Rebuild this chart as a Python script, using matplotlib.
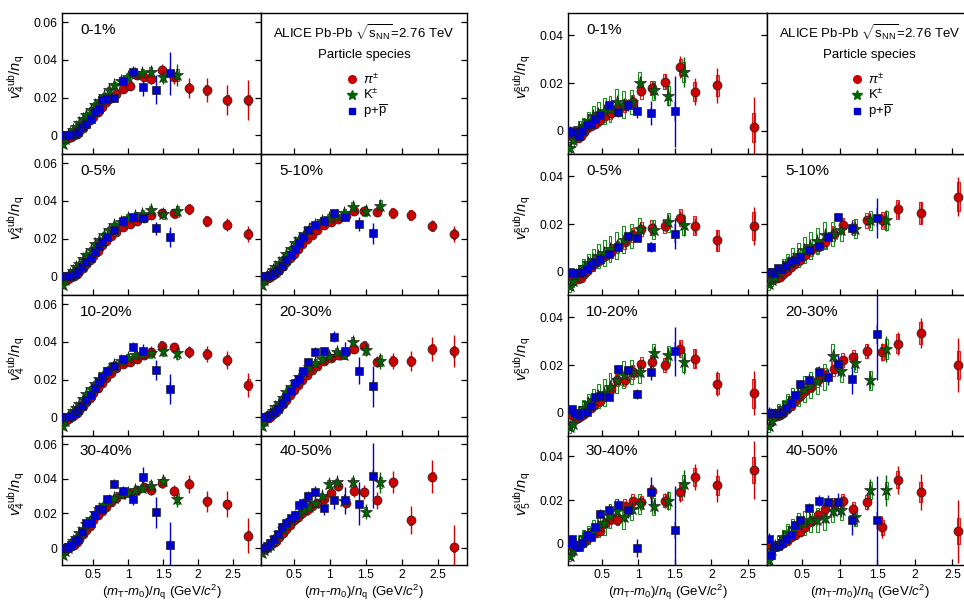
import numpy as np
import matplotlib
matplotlib.use("Agg")
import matplotlib.pyplot as plt
from matplotlib.patches import Rectangle
from matplotlib.ticker import FuncFormatter, FixedLocator

plt.rcParams["font.family"] = ["Liberation Sans", "DejaVu Sans"]
plt.rcParams["mathtext.fontset"] = "custom"
plt.rcParams["mathtext.rm"] = "Liberation Sans"
plt.rcParams["mathtext.it"] = "Liberation Sans:italic"
plt.rcParams["mathtext.bf"] = "Liberation Sans:bold"

# ---------------------------------------------------------------- data
CENTS = ["0-1%", "0-5%", "5-10%", "10-20%", "20-30%", "30-40%", "40-50%"]

# v4 -- pions
v4_pi_x = [0.07, 0.10, 0.14, 0.18, 0.22, 0.26, 0.30, 0.35, 0.40, 0.45, 0.50, 0.56, 0.62, 0.68,
           0.75, 0.83, 0.92, 1.02, 1.12, 1.22, 1.33, 1.48, 1.66, 1.87, 2.12, 2.42, 2.72]
v4_pi_y = [
    [-0.0005, -0.001, -0.0015, -0.001, 0.0, 0.001, 0.0025, 0.004, 0.006, 0.008, 0.010, 0.0125, 0.015, 0.0175,
     0.020, 0.022, 0.0245, 0.026, 0.0318, 0.031, 0.030, 0.0345, 0.031, 0.025, 0.024, 0.0187, 0.0187],
    [-0.0005, -0.001, -0.0012, -0.0005, 0.0005, 0.0015, 0.003, 0.0047, 0.0067, 0.0088, 0.0108, 0.0135, 0.0165, 0.019,
     0.0212, 0.0235, 0.026, 0.0278, 0.0292, 0.031, 0.0327, 0.0335, 0.0335, 0.0355, 0.0295, 0.0275, 0.0225],
    [-0.0005, -0.001, -0.001, -0.0003, 0.001, 0.002, 0.0035, 0.0055, 0.0075, 0.0097, 0.012, 0.0145, 0.0172, 0.0197,
     0.022, 0.0245, 0.027, 0.029, 0.0305, 0.032, 0.0345, 0.0345, 0.0343, 0.0338, 0.0327, 0.0268, 0.0225],
    [-0.0005, -0.001, -0.0008, 0.0, 0.0012, 0.0025, 0.004, 0.006, 0.0082, 0.0105, 0.013, 0.0158, 0.0185, 0.021,
     0.0235, 0.026, 0.0285, 0.0295, 0.031, 0.033, 0.0345, 0.038, 0.0372, 0.0345, 0.0336, 0.0304, 0.0173],
    [-0.0005, -0.0008, -0.0005, 0.0005, 0.0018, 0.003, 0.0048, 0.007, 0.0095, 0.012, 0.0145, 0.0172, 0.020, 0.0225,
     0.025, 0.0275, 0.030, 0.0315, 0.033, 0.0345, 0.036, 0.038, 0.0296, 0.030, 0.0297, 0.0363, 0.035],
    [-0.0005, -0.0005, 0.0, 0.001, 0.002, 0.0035, 0.0055, 0.008, 0.0105, 0.013, 0.016, 0.019, 0.0215, 0.024,
     0.0265, 0.029, 0.031, 0.032, 0.0337, 0.0352, 0.0333, 0.0375, 0.033, 0.0371, 0.027, 0.0253, 0.0072],
    [-0.0005, -0.0005, 0.0005, 0.0015, 0.0028, 0.0042, 0.0062, 0.0085, 0.011, 0.0135, 0.016, 0.018, 0.020, 0.022,
     0.0245, 0.026, 0.0285, 0.032, 0.0356, 0.026, 0.033, 0.0324, 0.0276, 0.0381, 0.0162, 0.0413, 0.0004],
]
v4_pi_stat = [0.0003, 0.0003, 0.0003, 0.0003, 0.0003, 0.0003, 0.0003, 0.0003, 0.0003, 0.0003, 0.0003, 0.0004,
              0.0004, 0.0004, 0.0005, 0.0005, 0.0006, 0.0007, 0.0008, 0.0009, 0.0010, 0.0012, 0.0015, 0.0020,
              0.0025, 0.0030, 0.0040]
v4_pi_sys = [0.0006, 0.0006, 0.0006, 0.0006, 0.0006, 0.0007, 0.0007, 0.0008, 0.0008, 0.0009, 0.0010, 0.0011,
             0.0012, 0.0013, 0.0014, 0.0015, 0.0016, 0.0017, 0.0018, 0.0019, 0.0020, 0.0022, 0.0024, 0.0026,
             0.0026, 0.0026, 0.0028]
v4_pi_scale = [2.6, 1.1, 1.0, 1.6, 2.1, 2.5, 3.2]

# v4 -- kaons
v4_k_x = [0.06, 0.09, 0.13, 0.17, 0.21, 0.25, 0.30, 0.35, 0.40, 0.46, 0.52, 0.58, 0.65, 0.72, 0.80, 0.89,
          0.99, 1.10, 1.20, 1.32, 1.50, 1.70]
v4_k_y = [
    [-0.0045, -0.002, 0.0, 0.0015, 0.003, 0.0045, 0.0065, 0.0085, 0.011, 0.0135, 0.016, 0.0185, 0.021, 0.024,
     0.0265, 0.029, 0.031, 0.0325, 0.033, 0.0335, 0.031, 0.032],
    [-0.0045, -0.002, 0.0, 0.0015, 0.003, 0.0048, 0.0068, 0.009, 0.0115, 0.0142, 0.017, 0.0195, 0.022, 0.0245,
     0.027, 0.029, 0.031, 0.032, 0.033, 0.035, 0.033, 0.0345],
    [-0.0045, -0.002, 0.0, 0.0015, 0.0032, 0.005, 0.007, 0.0095, 0.012, 0.0148, 0.0175, 0.020, 0.0225, 0.025,
     0.0275, 0.0295, 0.031, 0.032, 0.0335, 0.037, 0.0345, 0.0375],
    [-0.0045, -0.002, 0.0, 0.0015, 0.0032, 0.005, 0.0072, 0.0098, 0.0125, 0.015, 0.0178, 0.0205, 0.023, 0.0255,
     0.028, 0.030, 0.0315, 0.033, 0.0335, 0.034, 0.035, 0.034],
    [-0.0045, -0.002, 0.0, 0.0018, 0.0035, 0.0055, 0.0078, 0.0105, 0.0135, 0.016, 0.019, 0.0215, 0.024, 0.0265,
     0.029, 0.031, 0.0325, 0.0345, 0.033, 0.040, 0.0355, 0.030],
    [-0.004, -0.0015, 0.0, 0.002, 0.0038, 0.006, 0.0085, 0.011, 0.014, 0.017, 0.020, 0.0225, 0.025, 0.027,
     0.029, 0.031, 0.032, 0.0335, 0.035, 0.036, 0.0385, 0.0286],
    [-0.003, -0.001, 0.0005, 0.002, 0.004, 0.006, 0.0085, 0.011, 0.0135, 0.016, 0.018, 0.020, 0.022, 0.024,
     0.026, 0.030, 0.037, 0.038, 0.027, 0.038, 0.021, 0.038],
]
v4_k_stat = [0.0006, 0.0005, 0.0004, 0.0004, 0.0004, 0.0004, 0.0004, 0.0004, 0.0004, 0.0005, 0.0005, 0.0005,
             0.0006, 0.0006, 0.0007, 0.0008, 0.0009, 0.0010, 0.0012, 0.0015, 0.0020, 0.0028]
v4_k_sys = [0.0015, 0.0012, 0.0010, 0.0010, 0.0010, 0.0010, 0.0011, 0.0012, 0.0013, 0.0014, 0.0015, 0.0016,
            0.0017, 0.0018, 0.0019, 0.0020, 0.0021, 0.0022, 0.0023, 0.0025, 0.0027, 0.0030]
v4_k_scale = [2.0, 1.0, 1.0, 1.2, 1.5, 1.8, 2.2]

# v4 -- protons
v4_p_x = [0.06, 0.09, 0.13, 0.18, 0.23, 0.28, 0.34, 0.40, 0.46, 0.52, 0.58, 0.63, 0.70, 0.80, 0.92, 1.06,
          1.21, 1.40, 1.60]
v4_p_y = [
    [0.0, 0.0, 0.0, 0.0, 0.0008, 0.0018, 0.0044, 0.006, 0.0085, 0.0124, 0.0141, 0.019, 0.0195, 0.020, 0.0287,
     0.0336, 0.0256, 0.0242, 0.033],
    [0.0, 0.0, 0.0, 0.0005, 0.0015, 0.003, 0.005, 0.0075, 0.010, 0.013, 0.016, 0.0185, 0.0207, 0.0245, 0.0295,
     0.0316, 0.031, 0.0254, 0.021],
    [0.0, 0.0, 0.0, 0.0008, 0.002, 0.0035, 0.0058, 0.0085, 0.0115, 0.0145, 0.0175, 0.021, 0.0245, 0.0274, 0.0295,
     0.0338, 0.0316, 0.0277, 0.0228],
    [0.0, 0.0, 0.0, 0.001, 0.0025, 0.004, 0.006, 0.009, 0.012, 0.0155, 0.019, 0.0212, 0.0244, 0.027, 0.031,
     0.0375, 0.0354, 0.025, 0.015],
    [0.0, 0.0, 0.0005, 0.0015, 0.003, 0.0045, 0.0075, 0.011, 0.014, 0.0185, 0.0204, 0.0248, 0.0296, 0.0349, 0.035,
     0.0428, 0.0352, 0.0248, 0.0166],
    [0.0, 0.0, 0.0005, 0.002, 0.004, 0.0055, 0.0095, 0.0143, 0.0143, 0.019, 0.0225, 0.0228, 0.0282, 0.0371, 0.033,
     0.0286, 0.0413, 0.0206, 0.0019],
    [0.0, 0.0, 0.001, 0.003, 0.0055, 0.008, 0.0124, 0.0145, 0.0175, 0.019, 0.0248, 0.026, 0.0299, 0.0324, 0.0234,
     0.0276, 0.0276, 0.0257, 0.0419],
]
v4_p_stat = [0.0005, 0.0005, 0.0005, 0.0005, 0.0005, 0.0005, 0.0005, 0.0006, 0.0006, 0.0007, 0.0008, 0.0009,
             0.0010, 0.0012, 0.0014, 0.0017, 0.0025, 0.0040, 0.0060]
v4_p_sys = [0.0006, 0.0006, 0.0006, 0.0006, 0.0006, 0.0007, 0.0007, 0.0008, 0.0008, 0.0009, 0.0010, 0.0010,
            0.0011, 0.0012, 0.0013, 0.0015, 0.0018, 0.0022, 0.0030]
v4_p_scale = [1.9, 0.9, 0.95, 1.33, 1.8, 2.2, 3.1]

# v5 -- pions
v5_pi_x = [0.06, 0.09, 0.13, 0.17, 0.21, 0.25, 0.30, 0.35, 0.41, 0.47, 0.54, 0.62, 0.71, 0.81, 0.92, 1.04,
           1.18, 1.36, 1.57, 1.77, 2.08, 2.58]
v5_pi_y = [
    [-0.001, -0.002, -0.003, -0.003, -0.002, -0.0005, 0.001, 0.002, 0.003, 0.0045, 0.006, 0.0075, 0.009, 0.0105,
     0.012, 0.0165, 0.018, 0.0206, 0.0267, 0.0164, 0.019, 0.0014],
    [-0.0005, -0.0015, -0.0025, -0.003, -0.0025, -0.001, 0.0005, 0.002, 0.0035, 0.005, 0.0068, 0.0085, 0.0105,
     0.0125, 0.0153, 0.018, 0.0185, 0.0192, 0.0226, 0.0192, 0.0132, 0.0192],
    [-0.0005, -0.001, -0.002, -0.0025, -0.002, -0.001, 0.0005, 0.002, 0.0035, 0.005, 0.007, 0.009, 0.0105, 0.0125,
     0.016, 0.0194, 0.0185, 0.0215, 0.0215, 0.0261, 0.0246, 0.0315],
    [-0.0005, -0.001, -0.0015, -0.002, -0.0015, -0.0005, 0.001, 0.002, 0.0035, 0.005, 0.007, 0.010, 0.0139, 0.0139,
     0.017, 0.0203, 0.0212, 0.020, 0.0268, 0.0226, 0.0122, 0.0081],
    [-0.0005, -0.001, -0.0015, -0.0015, -0.001, 0.0, 0.0015, 0.003, 0.005, 0.007, 0.009, 0.011, 0.0136, 0.016,
     0.0185, 0.022, 0.0233, 0.0258, 0.0254, 0.0289, 0.0333, 0.020],
    [0.0, -0.001, -0.0015, -0.001, 0.0, 0.001, 0.002, 0.0035, 0.005, 0.006, 0.0095, 0.0115, 0.011, 0.0175,
     0.0198, 0.019, 0.024, 0.0198, 0.0237, 0.0305, 0.0267, 0.0336],
    [0.0, -0.001, -0.0015, -0.001, -0.0005, 0.0005, 0.0015, 0.003, 0.004, 0.0055, 0.0076, 0.0105, 0.013, 0.016,
     0.018, 0.0198, 0.016, 0.0191, 0.0076, 0.0293, 0.0237, 0.0058],
]
v5_pi_stat = [0.0005, 0.0005, 0.0005, 0.0005, 0.0005, 0.0005, 0.0005, 0.0005, 0.0006, 0.0006, 0.0007, 0.0008,
              0.0009, 0.0010, 0.0011, 0.0013, 0.0015, 0.0020, 0.0028, 0.0035, 0.0045, 0.0080]
v5_pi_sys = [0.0008, 0.0008, 0.0008, 0.0009, 0.0010, 0.0012, 0.0014, 0.0016, 0.0018, 0.0020, 0.0022, 0.0024,
             0.0026, 0.0028, 0.0030, 0.0030, 0.0030, 0.0030, 0.0035, 0.0040, 0.0045, 0.0060]
v5_pi_scale = [1.6, 1.0, 1.0, 1.15, 1.4, 1.65, 1.8]

# v5 -- kaons
v5_k_x = [0.06, 0.10, 0.14, 0.19, 0.25, 0.31, 0.38, 0.45, 0.53, 0.61, 0.70, 0.80, 0.91, 1.02, 1.21, 1.41, 1.62]
v5_k_y = [
    [-0.007, -0.004, -0.001, 0.001, 0.002, 0.004, 0.006, 0.007, 0.0084, 0.009, 0.012, 0.011, 0.012, 0.020,
     0.017, 0.0147, 0.0246],
    [-0.006, -0.004, -0.0015, 0.0, 0.002, 0.0035, 0.005, 0.0065, 0.008, 0.0095, 0.011, 0.0135, 0.015, 0.018,
     0.0176, 0.0208, 0.0195],
    [-0.005, -0.0035, -0.002, 0.0, 0.002, 0.0035, 0.0055, 0.007, 0.009, 0.011, 0.013, 0.0153, 0.016, 0.0174,
     0.018, 0.0215, 0.0215],
    [-0.006, -0.0045, -0.0015, 0.0, 0.002, 0.004, 0.0055, 0.007, 0.0085, 0.011, 0.0136, 0.016, 0.017, 0.017,
     0.025, 0.024, 0.0212],
    [-0.0055, -0.003, -0.001, 0.0005, 0.002, 0.004, 0.006, 0.008, 0.010, 0.0115, 0.0135, 0.015, 0.0239, 0.0175,
     0.021, 0.0136, 0.0267],
    [-0.0055, -0.003, -0.001, 0.0005, 0.003, 0.004, 0.0065, 0.008, 0.0095, 0.0125, 0.015, 0.0122, 0.016, 0.0183,
     0.0171, 0.0198, 0.0275],
    [-0.0075, -0.003, -0.001, 0.0005, 0.003, 0.005, 0.007, 0.009, 0.0095, 0.0107, 0.0107, 0.012, 0.015, 0.0153,
     0.0122, 0.0244, 0.0244],
]
v5_k_stat = [0.0012, 0.0010, 0.0008, 0.0008, 0.0008, 0.0008, 0.0009, 0.0010, 0.0011, 0.0012, 0.0013, 0.0015,
             0.0017, 0.0020, 0.0025, 0.0032, 0.0045]
v5_k_sys = [0.0025, 0.0025, 0.0025, 0.0030, 0.0035, 0.0040, 0.0045, 0.0050, 0.0055, 0.0055, 0.0055, 0.0055,
            0.0050, 0.0045, 0.0040, 0.0040, 0.0040]
v5_k_scale = [1.4, 1.0, 1.0, 1.1, 1.2, 1.4, 1.6]

# v5 -- protons
v5_p_x = [0.06, 0.09, 0.13, 0.18, 0.23, 0.29, 0.35, 0.41, 0.48, 0.59, 0.72, 0.85, 0.98, 1.17, 1.50]
v5_p_y = [
    [0.0, -0.001, -0.0005, -0.002, 0.0, 0.0025, 0.003, 0.005, 0.0065, 0.0108, 0.0077, 0.0108, 0.0084, 0.0074, 0.0081],
    [0.0, -0.0005, -0.0005, -0.0005, 0.0, 0.001, 0.0028, 0.004, 0.0055, 0.0075, 0.0104, 0.0148, 0.0142, 0.0104, 0.016],
    [0.0, 0.0, -0.0005, 0.0014, 0.001, 0.0025, 0.004, 0.005, 0.006, 0.009, 0.011, 0.0146, 0.023, 0.0185, 0.0226],
    [0.001, 0.0018, 0.0, -0.001, 0.0, 0.0005, 0.003, 0.0067, 0.007, 0.0067, 0.0185, 0.018, 0.0078, 0.017, 0.0257],
    [0.0, 0.0, 0.0, -0.0005, 0.0005, 0.002, 0.004, 0.0074, 0.012, 0.0139, 0.017, 0.015, 0.0203, 0.0142, 0.0329],
    [0.0005, 0.002, -0.0005, -0.0015, 0.0005, 0.004, 0.003, 0.0076, 0.0137, 0.0156, 0.0176, 0.0153, -0.002, 0.0237, 0.0061],
    [0.0023, -0.0053, -0.0015, -0.001, 0.0005, 0.002, 0.0038, 0.0084, 0.0107, 0.0165, 0.0198, 0.019, 0.019, 0.0107, 0.0107],
]
v5_p_stat = [0.0015, 0.0012, 0.0010, 0.0010, 0.0010, 0.0010, 0.0010, 0.0011, 0.0012, 0.0014, 0.0016, 0.0020,
             0.0025, 0.0040, 0.0120]
v5_p_sys = [0.0010, 0.0010, 0.0010, 0.0010, 0.0010, 0.0010, 0.0010, 0.0011, 0.0012, 0.0013, 0.0014, 0.0016,
            0.0018, 0.0020, 0.0040]
v5_p_scale = [1.25, 0.55, 0.7, 0.85, 1.6, 1.7, 1.7]

# ---------------------------------------------------------------- layout
FIG_W, FIG_H = 964, 600
ROWS_PX = [13, 154, 295, 436, 565]
# panel slot (row, col) of each centrality class; (0, 1) holds the legend
SLOTS = [(0, 0), (1, 0), (1, 1), (2, 0), (2, 1), (3, 0), (3, 1)]

RED, GREEN, BLUE = "#cc0000", "#006400", "#0000cc"
RED_BOX, GREEN_BOX, BLUE_BOX = "#e02020", "#1f8a1f", "#2020e0"


def panel(fig, cols_px, row, col):
    x0, x1 = cols_px[col], cols_px[col + 1]
    y0, y1 = ROWS_PX[row], ROWS_PX[row + 1]
    return fig.add_axes([x0 / FIG_W, 1 - y1 / FIG_H, (x1 - x0) / FIG_W, (y1 - y0) / FIG_H])


def boxes(ax, x, y, sys, color, hw, filled=False, fill_from=None):
    for xi, yi, si in zip(x, y, sys):
        if np.isnan(yi):
            continue
        fill_it = filled or (fill_from is not None and xi >= fill_from)
        if fill_it:
            ax.add_patch(Rectangle((xi - hw, yi - si), 2 * hw, 2 * si, facecolor=color, alpha=0.45,
                                   edgecolor="none", zorder=2))
        if not filled:
            ax.add_patch(Rectangle((xi - hw, yi - si), 2 * hw, 2 * si, fill=False, edgecolor=color,
                                   lw=0.8, zorder=2))


def points(ax, x, y, stat, color, marker, ms, z):
    ax.errorbar(x, y, yerr=stat, fmt="none", ecolor=color, elinewidth=1.0, capsize=0, zorder=3)
    ax.plot(x, y, ls="none", marker=marker, ms=ms, mfc=color, mec="#222222", mew=0.5, zorder=z)


def style_axes(ax, xlim, ylim, yticks, row, col):
    ax.set_xlim(*xlim)
    ax.set_ylim(*ylim)
    ax.xaxis.set_major_locator(FixedLocator([0.5, 1.0, 1.5, 2.0, 2.5]))
    ax.yaxis.set_major_locator(FixedLocator(yticks))
    ax.xaxis.set_major_formatter(FuncFormatter(lambda v, p: f"{v:g}"))
    ax.yaxis.set_major_formatter(FuncFormatter(lambda v, p: "0" if abs(v) < 1e-9 else f"{v:.2f}"))
    ax.tick_params(direction="in", length=4, width=0.9, labelsize=8.7, top=False, bottom=True,
                   left=(col == 0), right=True, labelleft=(col == 0), labelbottom=(row == 3), pad=3)
    for s in ax.spines.values():
        s.set_linewidth(1.0)


def draw_block(fig, cols_px, xlim, ylim, yticks, harm, sets):
    for i, cent in enumerate(CENTS):
        row, col = SLOTS[i]
        ax = panel(fig, cols_px, row, col)
        style_axes(ax, xlim, ylim, yticks, row, col)
        (pix, piy, pis, pisy, pisc), (kx, ky, ks, ksy, ksc), (px, py, ps, psy, psc) = sets
        pi_y = np.array(piy[i], float)
        k_y = np.array(ky[i], float)
        p_y = np.array(py[i], float)
        boxes(ax, pix, pi_y, pisy, RED_BOX, 0.02, fill_from=(1.5 if harm == 5 else None))
        boxes(ax, kx, k_y, ksy, GREEN_BOX, 0.02)
        boxes(ax, px, p_y, psy, BLUE_BOX, 0.012, filled=True)
        points(ax, pix, pi_y, np.array(pis) * pisc[i], RED, "o", 6.5, 4)
        points(ax, kx, k_y, np.array(ks) * ksc[i], GREEN, "*", 9.5, 5)
        points(ax, px, p_y, np.array(ps) * psc[i], BLUE, "s", 6.0, 6)
        ax.text(0.09, 0.88, cent, transform=ax.transAxes, fontsize=11, va="center", ha="left")
        if col == 0:
            ax.set_ylabel(rf"$v_{{{harm}}}^{{\rm sub}}/n_{{\rm q}}$", fontsize=10.5)
            ax.yaxis.set_label_coords(-0.17, 0.55)
        if row == 3:
            ax.set_xlabel(r"$(m_{\rm T}$-$m_{0})/n_{\rm q}$ (GeV/$c^{2}$)", fontsize=9.5)
            ax.xaxis.set_label_coords(0.5, -0.135)

    # legend panel
    ax = panel(fig, cols_px, 0, 1)
    style_axes(ax, xlim, ylim, yticks, 0, 1)
    ax.text(0.5, 0.86, r"ALICE Pb-Pb $\sqrt{\rm s_{NN}}$=2.76 TeV", transform=ax.transAxes,
            ha="center", va="center", fontsize=9.5)
    ax.text(0.5, 0.70, "Particle species", transform=ax.transAxes, ha="center", va="center", fontsize=9.5)
    entries = [("o", RED, 5.5, r"$\pi^{\pm}$", 0.53), ("*", GREEN, 7.5, r"K$^{\pm}$", 0.418),
               ("s", BLUE, 5.0, r"p+$\overline{\rm p}$", 0.305)]
    for mk, c, ms, lab, yy in entries:
        ax.plot([0.44], [yy], transform=ax.transAxes, marker=mk, ms=ms, mfc=c, mec=c, ls="none",
                clip_on=False)
        ax.text(0.495, yy, lab, transform=ax.transAxes, ha="left", va="center", fontsize=9.5)


fig = plt.figure(figsize=(FIG_W / 100, FIG_H / 100), dpi=100)

draw_block(fig, (62, 261, 467), (0.05, 2.9), (-0.0098, 0.0648), [0, 0.02, 0.04, 0.06], 4,
           [(v4_pi_x, v4_pi_y, v4_pi_stat, v4_pi_sys, v4_pi_scale),
            (v4_k_x, v4_k_y, v4_k_stat, v4_k_sys, v4_k_scale),
            (v4_p_x, v4_p_y, v4_p_stat, v4_p_sys, v4_p_scale)])

draw_block(fig, (568, 767, 972), (0.035, 2.76), (-0.0097, 0.0493), [0, 0.02, 0.04], 5,
           [(v5_pi_x, v5_pi_y, v5_pi_stat, v5_pi_sys, v5_pi_scale),
            (v5_k_x, v5_k_y, v5_k_stat, v5_k_sys, v5_k_scale),
            (v5_p_x, v5_p_y, v5_p_stat, v5_p_sys, v5_p_scale)])

fig.savefig("out.png", dpi=100)
